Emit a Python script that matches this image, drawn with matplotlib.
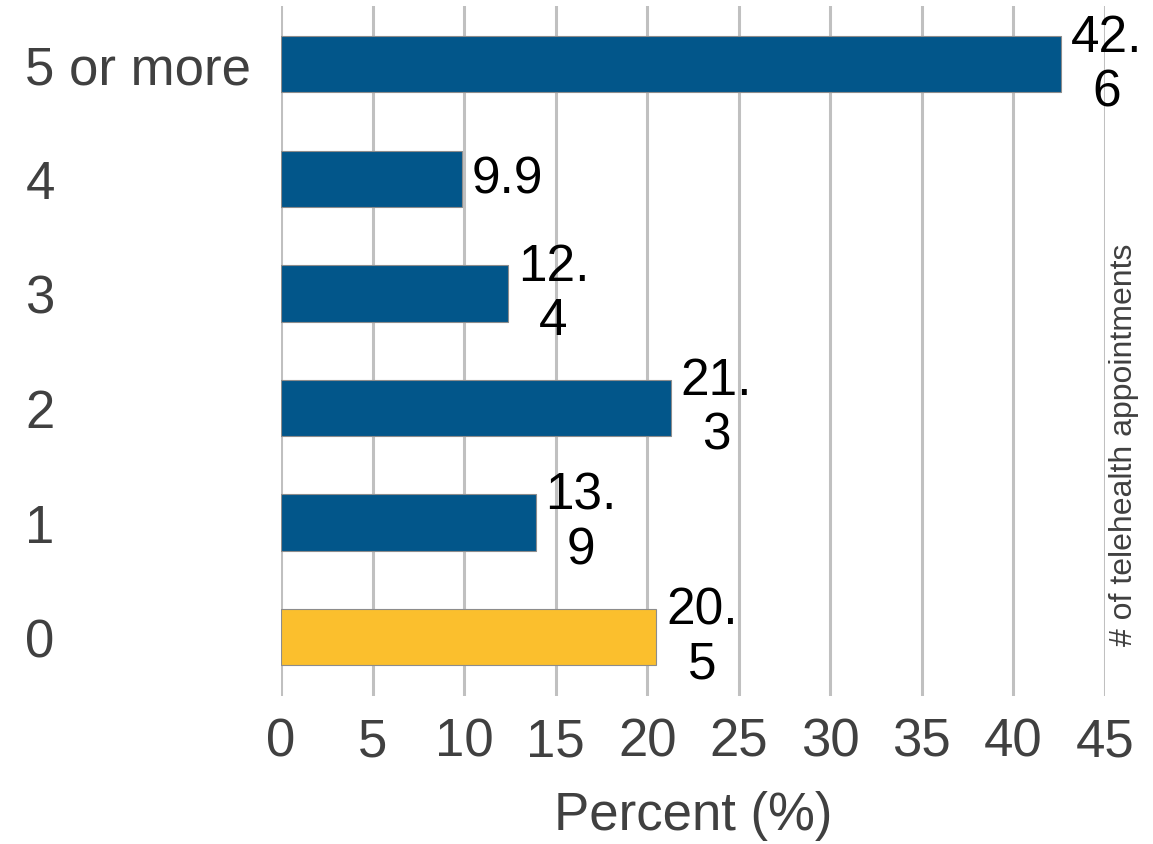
#! /usr/bin/env python3
"""
Telehealth appointments horizontal bar chart
"""

import matplotlib
matplotlib.use("Agg")
import matplotlib.pyplot as plt
from matplotlib import rcParams as rc

categories = ["0", "1", "2", "3", "4", "5 or more"]
values = [20.5, 13.9, 21.3, 12.4, 9.9, 42.6]
value_labels = ["20.\n5", "13.\n9", "21.\n3", "12.\n4", "9.9", "42.\n6"]
bar_colours = ["#fbbf2d", "#02568a", "#02568a", "#02568a", "#02568a", "#02568a"]
x_ticks = [0, 5, 10, 15, 20, 25, 30, 35, 40, 45]


def main():
    rc["font.family"] = ["Liberation Sans", "DejaVu Sans"]
    text_grey = "#404040"
    fig = plt.figure(figsize=(11.53, 8.45), dpi=100)
    ax = fig.add_axes([281 / 1153, 148 / 845, 824 / 1153, 690 / 845])
    ypos = list(range(len(categories)))
    ax.barh(ypos, values, height=0.49, color=bar_colours,
            edgecolor="#8c8c8c", linewidth=0.8, zorder=3)
    for y, v, lab in zip(ypos, values, value_labels):
        ax.annotate(lab, xy=(v, y), xytext=(7, 0), textcoords="offset points",
                    ha="left", va="center", multialignment="center",
                    fontsize=37, color="black", linespacing=1.15, zorder=4)
    ax.set_xlim(0, 45)
    ax.set_ylim(-0.515, 5.51)
    ax.set_xticks(x_ticks)
    ax.set_yticks(ypos)
    ax.set_yticklabels(categories)
    ax.grid(axis="x", color="#c0c0c0", linewidth=2.2, zorder=0)
    ax.grid(axis="y", visible=False)
    for side in ax.spines:
        ax.spines[side].set_visible(False)
    ax.tick_params(axis="both", length=0, labelsize=38, labelcolor=text_grey)
    ax.tick_params(axis="x", pad=15)
    ax.tick_params(axis="y", pad=184)
    for t in ax.get_yticklabels():
        t.set_horizontalalignment("left")
    ax.set_xlabel("Percent (%)", fontsize=38, color=text_grey, labelpad=17)
    fig.text(1124 / 1153, 1 - 445 / 845, "# of telehealth appointments",
             rotation=90, ha="center", va="center", fontsize=23,
             color=text_grey)
    fig.savefig("out.png", dpi=100)


if __name__ == "__main__":
    main()
